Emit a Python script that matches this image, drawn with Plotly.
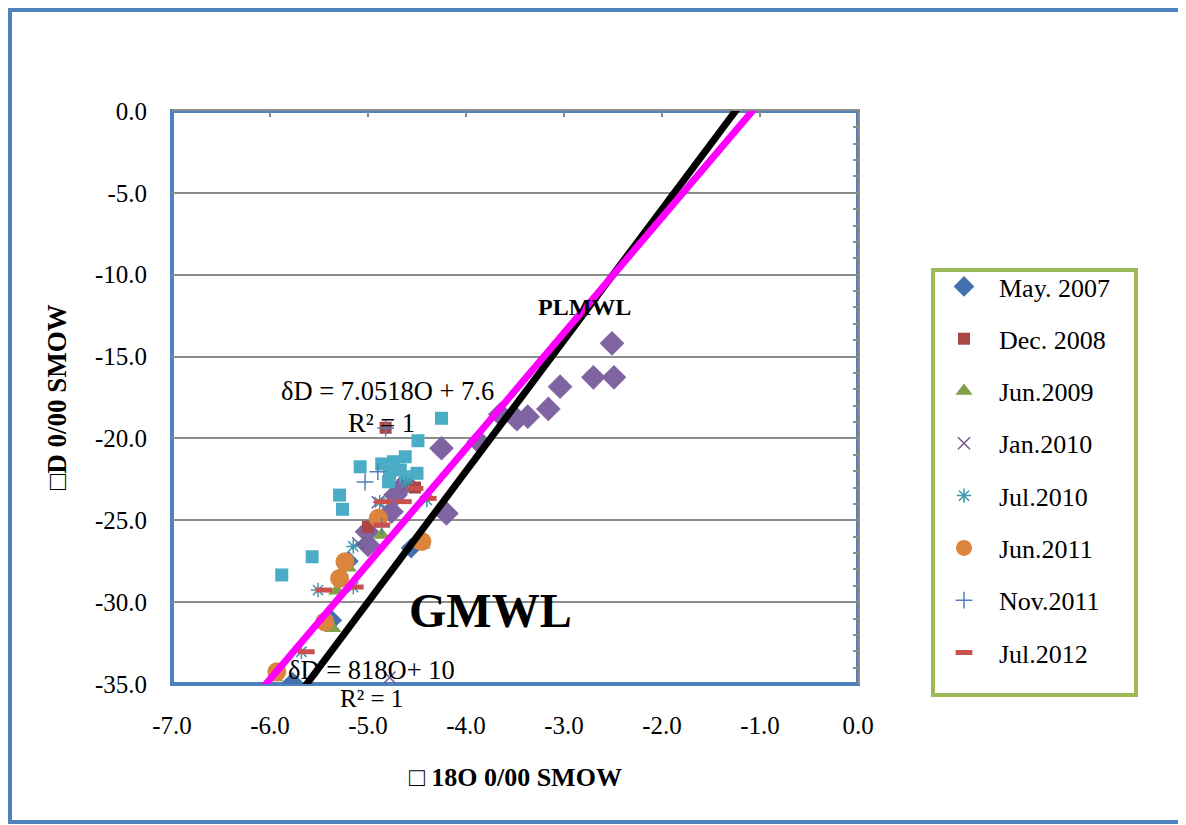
import numpy as np
import plotly.graph_objects as go

# ---------------- data ----------------
may2007_x = [-5.77, -5.37, -4.56, -5.20]
may2007_y = [-34.9, -31.1, -26.7, -27.5]

dec2008_x = [-4.82, -5.29, -4.52, -5.00]
dec2008_y = [-19.35, -28.5, -23.0, -25.4]

jun2009_x = [-5.95, -5.36, -5.32, -4.45, -4.86, -5.20]
jun2009_y = [-34.6, -31.6, -29.3, -26.5, -25.9, -27.9]

jan2010_x = [-4.78, -4.90, -4.60, -5.10]
jan2010_y = [-34.6, -23.9, -22.9, -26.4]

jul2010_x = [-5.51, -5.15, -5.68, -4.61, -4.40, -4.88, -5.15]
jul2010_y = [-29.26, -26.6, -33.03, -22.7, -23.76, -23.9, -29.08]

jun2011_x = [-5.93, -5.44, -5.29, -5.235, -4.895, -4.45]
jun2011_y = [-34.25, -31.2, -28.55, -27.53, -24.88, -26.3]

nov2011_x = [-4.82, -5.03, -4.90, -4.86]
nov2011_y = [-19.37, -22.66, -22.03, -25.39]

jul2012_x = [-5.45, -5.13, -5.63, -4.385, -4.52, -4.64, -4.86, -4.85]
jul2012_y = [-29.26, -29.08, -33.03, -23.66, -23.05, -23.86, -25.29, -23.86]

extra_diamond_x = [-2.51, -2.49, -2.70, -3.04, -3.16, -3.37, -3.48, -3.65, -3.87,
                   -4.25, -4.20, -4.72, -4.76, -5.01, -5.00, -4.62]
extra_diamond_y = [-14.19, -16.27, -16.27, -16.84, -18.20, -18.67, -18.83, -18.53, -20.20,
                   -20.60, -24.58, -23.46, -24.48, -25.70, -26.51, -22.75]

extra_square_x = [-4.25, -4.49, -4.62, -4.74, -4.86, -5.08, -4.67, -4.78, -4.50, -4.61,
                  -4.79, -5.29, -5.26, -5.57, -5.88]
extra_square_y = [-18.77, -20.14, -21.12, -21.42, -21.56, -21.73, -21.93, -22.13, -22.13, -22.34,
                  -22.65, -23.46, -24.33, -27.23, -28.34]

# meteoric water lines: slope, intercept
gmwl_slope, gmwl_intercept = 8.0, 10.0
plmwl_slope, plmwl_intercept = 7.0518, 7.6
line_x = np.array([-7.0, 0.0])

x_ticks = [-7, -6, -5, -4, -3, -2, -1, 0]
y_ticks = [-35, -30, -25, -20, -15, -10, -5, 0]

FONT = "Liberation Serif"

fig = go.Figure()

def add(name, xs, ys, symbol, color, size, line=None, showlegend=True):
    m = dict(symbol=symbol, color=color, size=size)
    if line is not None:
        m["line"] = line
    fig.add_trace(go.Scatter(x=xs, y=ys, mode="markers", name=name, marker=m,
                             showlegend=showlegend, legendgroup=name))

add("extra1", extra_diamond_x, extra_diamond_y, "diamond", "#8064A2", 19, showlegend=False)
add("extra2", extra_square_x, extra_square_y, "square", "#4BACC6", 13, showlegend=False)
add("May. 2007", may2007_x, may2007_y, "diamond", "#4271AE", 16)
add("Dec. 2008", dec2008_x, dec2008_y, "square", "#AA4643", 12)
add("Jun.2009", jun2009_x, jun2009_y, "triangle-up", "#80A04A", 15)
add("Jan.2010", jan2010_x, jan2010_y, "x-thin-open", "#71588F", 12,
    line=dict(color="#71588F", width=1.5))
add("Jul.2010", jul2010_x, jul2010_y, "asterisk-open", "#3E98B0", 12,
    line=dict(color="#3E98B0", width=1.5))
add("Jun.2011", jun2011_x, jun2011_y, "circle", "#DB843D", 19)
add("Nov.2011", nov2011_x, nov2011_y, "cross-thin-open", "#4F7FBF", 12,
    line=dict(color="#4F7FBF", width=1.5))
add("Jul.2012", jul2012_x, jul2012_y, "line-ew-open", "#C8504D", 12,
    line=dict(color="#C8504D", width=5))

fig.add_trace(go.Scatter(x=line_x, y=gmwl_slope * line_x + gmwl_intercept, mode="lines",
                         line=dict(color="black", width=7), showlegend=False, hoverinfo="skip"))
fig.add_trace(go.Scatter(x=line_x, y=plmwl_slope * line_x + plmwl_intercept, mode="lines",
                         line=dict(color="#FF00FF", width=7), showlegend=False, hoverinfo="skip"))
# helper trace for the secondary (top/right) axes
fig.add_trace(go.Scatter(x=line_x, y=[-35, 0], mode="markers", xaxis="x2", yaxis="y2",
                         marker=dict(opacity=0), showlegend=False, hoverinfo="skip"))

OFF = 8  # page body margin
W, H = 1186 - OFF, 825 - OFF
L, R, T, B = 172 - OFF, 858 - OFF, 111 - OFF, 684 - OFF
pw, ph = R - L, B - T
def px(p):   # page x pixel -> paper
    return (p - OFF - L) / pw
def py(p):   # page y pixel -> paper
    return (B - (p - OFF)) / ph

def note(x, y, text, size, ref="data", angle=0):
    d = dict(x=x, y=y, text=text, showarrow=False, xanchor="center", yanchor="middle",
             font=dict(size=size, family=FONT, color="black"), textangle=angle)
    if ref == "data":
        d.update(xref="x", yref="y")
    else:
        d.update(xref="paper", yref="paper")
    return d

fig.update_layout(
    width=W, height=H,
    margin=dict(l=L, r=W - R, t=T, b=H - B),
    paper_bgcolor="white", plot_bgcolor="white",
    font=dict(family=FONT, size=26, color="black"),
    xaxis=dict(range=[-7, 0], tickvals=x_ticks, ticktext=[f"{v:.1f}" for v in x_ticks],
               showgrid=False, zeroline=False, showline=False, ticks="",
               ticklabelstandoff=24, tickfont=dict(size=25, family=FONT)),
    yaxis=dict(range=[-35, 0], tickvals=y_ticks, ticktext=[f"{v:.1f}" for v in y_ticks],
               showgrid=True, gridcolor="#8C8C8C", gridwidth=1.5, zeroline=False,
               showline=False, ticks="", ticklabelstandoff=24,
               tickfont=dict(size=25, family=FONT)),
    xaxis2=dict(range=[-7, 0], overlaying="x", side="top", anchor="y2", dtick=1, tick0=0,
                ticks="inside", ticklen=6, tickcolor="#8C8C8C", tickwidth=1.5,
                showticklabels=False, showgrid=False, zeroline=False,
                showline=True, linecolor="#8C8C8C", linewidth=2),
    yaxis2=dict(range=[-35, 0], overlaying="y", side="right", anchor="x2", dtick=1, tick0=0,
                ticks="inside", ticklen=5, tickcolor="#8C8C8C", tickwidth=1.5,
                showticklabels=False, showgrid=False, zeroline=False,
                showline=True, linecolor="#8C8C8C", linewidth=2),
    legend=dict(x=px(929), y=py(263), xanchor="left", yanchor="top",
                font=dict(size=26, family=FONT), tracegroupgap=15.5,
                bgcolor="rgba(0,0,0,0)", borderwidth=0, itemwidth=60),
    shapes=[
        dict(type="rect", xref="paper", yref="paper", x0=0, x1=1, y0=0, y1=1,
             line=dict(color="#4F81BD", width=4), layer="below"),
        dict(type="rect", xref="paper", yref="paper", x0=px(10), x1=px(1181), y0=py(822), y1=py(10),
             line=dict(color="#4F81BD", width=4), layer="below"),
        dict(type="rect", xref="paper", yref="paper", x0=px(933), x1=px(1136), y0=py(695), y1=py(270),
             line=dict(color="#9BBB59", width=4), layer="below"),
    ],
    annotations=[
        note(-2.786, -11.97, "<b>PLMWL</b>", 24),
        note(-4.796, -17.10, "δD = 7.0518O + 7.6", 26.5),
        note(-4.867, -19.06, "R² = 1", 26.5),
        note(-3.755, -30.54, "<b>GMWL</b>", 48),
        note(px(371), py(670), "δD = 818O+ 10", 26.5, ref="paper"),
        note(px(371), py(698), "R² = 1", 25, ref="paper"),
        note(px(515), py(777), "<b>□ 18O 0/00 SMOW</b>", 26, ref="paper"),
        note(px(57), py(397), "<b>□D 0/00 SMOW</b>", 27, ref="paper", angle=-90),
    ],
)

fig.write_html("out.html")
